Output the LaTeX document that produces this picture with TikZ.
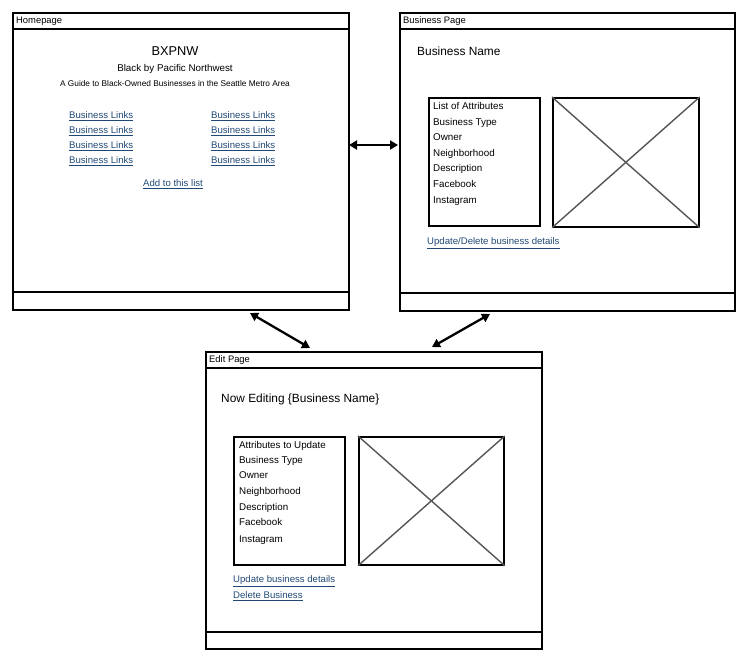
\documentclass[tikz,border=0pt]{standalone}
\usepackage{fontspec}
\setmainfont{Liberation Sans}
\usetikzlibrary{arrows.meta}
\definecolor{linkblue}{RGB}{32,72,118}
\definecolor{xgray}{RGB}{85,85,85}
\tikzset{
  window/.style={draw, line width=2pt, anchor=north west, inner sep=0pt},
  sepline/.style={line width=1.6pt},
  wtitle/.style={anchor=west, font=\fontsize{9.4}{11}\selectfont, inner sep=0pt, text height=6.8pt, text depth=0pt},
  bodytxt/.style={anchor=west, font=\fontsize{9.8}{11}\selectfont, inner sep=0pt, text height=7pt, text depth=0pt},
  heading/.style={anchor=west, font=\fontsize{11.9}{14}\selectfont, inner sep=0pt, text height=8.5pt, text depth=0pt},
  linktxt/.style={anchor=west, font=\fontsize{9.6}{11}\selectfont, text=linkblue, inner sep=0pt, text height=6.9pt, text depth=0pt},
  abox/.style={draw, line width=1.7pt, anchor=north west, inner sep=0pt},
  imgbox/.style={draw, line width=1.7pt, anchor=north west, inner sep=0pt},
  xline/.style={draw=xgray, line width=1.4pt},
  biarrow/.style={line width=2.3pt, {Triangle[length=8pt,width=9pt]}-{Triangle[length=8pt,width=9pt]}},
}
\newcommand{\ul}[1]{\underline{#1}}
\begin{document}
\begin{tikzpicture}[x=1pt,y=-1pt]
\useasboundingbox (0,0) rectangle (749,662);
% ---------------- Homepage ----------------
\node[window, minimum width=336pt, minimum height=297pt] (home) at (12,12) {};
\draw[sepline] (12,29) -- (348,29);
\draw[sepline] (12,292) -- (348,292);
\node[wtitle] (hometitle) at (16,20) {Homepage};
\node[anchor=center, font=\fontsize{12.8}{14}\selectfont, inner sep=0pt, text height=9.2pt, text depth=0pt] (bxpnw) at (175,51) {BXPNW};
\node[anchor=center, font=\fontsize{9.8}{11}\selectfont, inner sep=0pt, text height=7pt, text depth=0pt] (sub1) at (175,68) {Black by Pacific Northwest};
\node[anchor=center, font=\fontsize{8.3}{9}\selectfont, inner sep=0pt, text height=6pt, text depth=0pt] (sub2) at (175,83) {A Guide to Black-Owned Businesses in the Seattle Metro Area};
\foreach \y [count=\i] in {115,130,145,160}{
  \node[linktxt] (hl\i) at (69,\y) {\ul{Business Links}};
  \node[linktxt] (hr\i) at (211,\y) {\ul{Business Links}};
}
\node[linktxt, anchor=center] (addlist) at (173,183) {\ul{Add to this list}};
% ---------------- Business Page ----------------
\node[window, minimum width=335pt, minimum height=298pt] (biz) at (399,12) {};
\draw[sepline] (399,29) -- (734,29);
\draw[sepline] (399,293) -- (734,293);
\node[wtitle] (biztitle) at (403,20) {Business Page};
\node[heading] (bizname) at (417,51) {Business Name};
\node[abox, minimum width=111pt, minimum height=128pt] (bizattr) at (428,97) {};
\foreach \t/\y [count=\i] in {List of Attributes/106,Business Type/122,Owner/137,Neighborhood/153,Description/168,Facebook/184,Instagram/200}{
  \node[bodytxt] (ba\i) at (433,\y) {\t};
}
\node[imgbox, minimum width=146pt, minimum height=129pt] (bizimg) at (552,97) {};
\draw[xline] (bizimg.north west) -- (bizimg.south east);
\draw[xline] (bizimg.north east) -- (bizimg.south west);
\node[linktxt] (bizlink) at (427,241) {\ul{Update/Delete business details}};
% ---------------- Edit Page ----------------
\node[window, minimum width=336pt, minimum height=297pt] (edit) at (205,351) {};
\draw[sepline] (205,368) -- (541,368);
\draw[sepline] (205,632) -- (541,632);
\node[wtitle] (edittitle) at (209,359.5) {Edit Page};
\node[heading] (editname) at (221,398) {Now Editing \{Business Name\}};
\node[abox, minimum width=111pt, minimum height=128pt] (editattr) at (233,436) {};
\foreach \t/\y [count=\i] in {Attributes to Update/445,Business Type/460,Owner/475,Neighborhood/491,Description/507,Facebook/522,Instagram/539}{
  \node[bodytxt] (ea\i) at (239,\y) {\t};
}
\node[imgbox, minimum width=145pt, minimum height=128pt] (editimg) at (358,436) {};
\draw[xline] (editimg.north west) -- (editimg.south east);
\draw[xline] (editimg.north east) -- (editimg.south west);
\node[linktxt] (updlink) at (233,579) {\ul{Update business details}};
\node[linktxt] (dellink) at (233,595) {\ul{Delete Business}};
% ---------------- Arrows ----------------
\coordinate (a1s) at (349,145);
\coordinate (a1e) at (398,145);
\coordinate (a2s) at (250,313);
\coordinate (a2e) at (310,348);
\coordinate (a3s) at (490,314);
\coordinate (a3e) at (432,347);
\draw[biarrow] (a1s) -- (a1e);
\draw[biarrow] (a2s) -- (a2e);
\draw[biarrow] (a3s) -- (a3e);
\end{tikzpicture}
\end{document}
